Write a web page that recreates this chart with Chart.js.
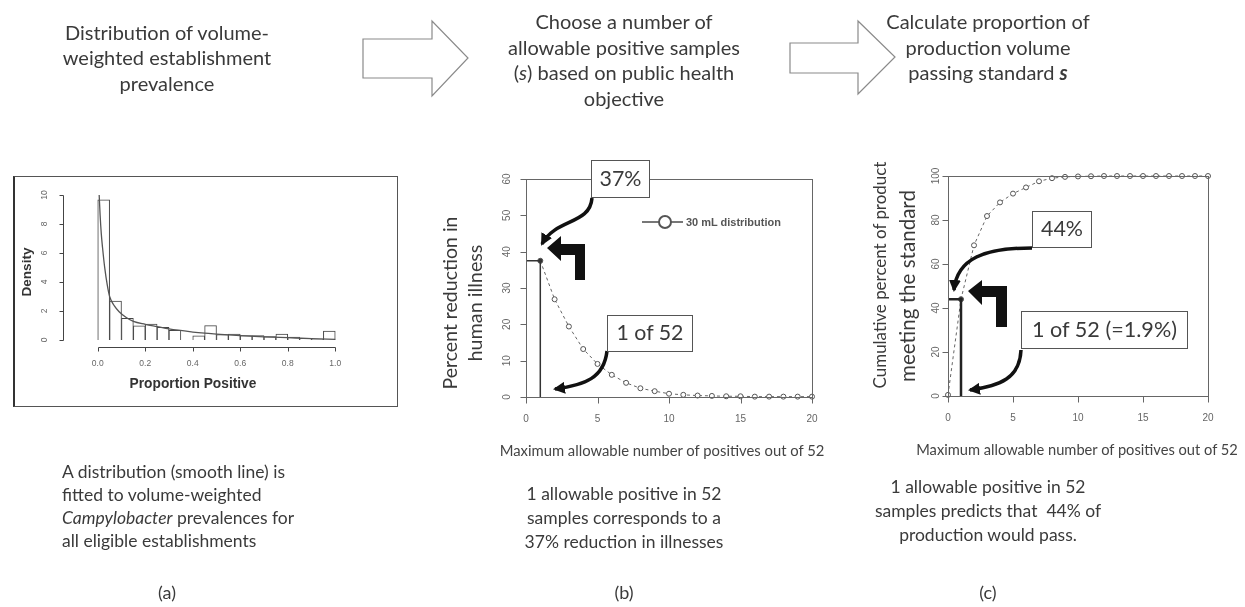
<!DOCTYPE html>
<html><head><meta charset="utf-8">
<script src="https://cdn.jsdelivr.net/npm/chart.js@4.4.1/dist/chart.umd.min.js"></script>
<style>
body{margin:0;background:#fff;}
#wrap{position:relative;width:1245px;height:607px;overflow:hidden;background:#fff;font-family:Lato,"Open Sans",sans-serif;color:#3a3a3a;}
.tx{position:absolute;white-space:nowrap;line-height:1;}
.cv{position:absolute;}
.box{position:absolute;background:#fff;border:1px solid #555;box-sizing:border-box;}
svg{position:absolute;left:0;top:0;}
</style></head>
<body><div id="wrap">
<div id="frameA" style="position:absolute;left:13px;top:176px;width:385px;height:231px;border:1px solid #555;border-left:2px solid #333;box-sizing:border-box;"></div>
<div class="cv" style="left:0;top:170px;width:420px;height:250px;"><canvas id="cA" width="420" height="250" style="width:420px;height:250px"></canvas></div>
<div class="cv" style="left:420px;top:150px;width:420px;height:280px;"><canvas id="cB" width="420" height="280" style="width:420px;height:280px"></canvas></div>
<div class="cv" style="left:840px;top:150px;width:405px;height:280px;"><canvas id="cC" width="405" height="280" style="width:405px;height:280px"></canvas></div>
<svg width="1245" height="607" viewBox="0 0 1245 607">
<defs><marker id="ah" markerWidth="12" markerHeight="12" refX="10" refY="6" orient="auto" markerUnits="userSpaceOnUse"><path d="M0,0 L12,6 L0,12 z" fill="#111"/></marker></defs>
<polygon points="363,39 432,39 432,21 468,58 432,96 432,78 363,78" fill="#fff" stroke="#8a8a8a" stroke-width="1.2"/>
<polygon points="790,43 858,43 858,21 895,57 858,94 858,73 790,73" fill="#fff" stroke="#8a8a8a" stroke-width="1.2"/>
<polygon points="547,248 561,236 561,244 585,244 585,280 575,280 575,255 561,255 561,261" fill="#111"/>
<polygon points="968,291 982,280 982,286 1007,286 1007,327 996,327 996,297 982,297 982,305" fill="#111"/>
<path d="M592,198 C590,225 556,218 542,244" fill="none" stroke="#111" stroke-width="3.5" marker-end="url(#ah)"/>
<path d="M607,351 C604,378 585,385 555,389" fill="none" stroke="#111" stroke-width="3.5" marker-end="url(#ah)"/>
<path d="M1032,248 C985,248 957,258 954,290" fill="none" stroke="#111" stroke-width="3.5" marker-end="url(#ah)"/>
<path d="M1021,350 C1020,378 1000,386 970,390" fill="none" stroke="#111" stroke-width="3.5" marker-end="url(#ah)"/>
<line x1="642" y1="222" x2="683" y2="222" stroke="#777" stroke-width="2"/>
<circle cx="665" cy="222" r="6" fill="#fff" stroke="#555" stroke-width="2"/>
</svg>
<div class="box" style="left:591px;top:160px;width:59px;height:38px;"></div>
<div class="box" style="left:607px;top:315px;width:86px;height:37px;"></div>
<div class="box" style="left:1032px;top:211px;width:60px;height:37px;"></div>
<div class="box" style="left:1021px;top:311px;width:167px;height:38px;"></div>
</div>
<script>
// ---------- data ----------
const histBreaks = [0,0.05,0.1,0.15,0.2,0.25,0.3,0.35,0.4,0.45,0.5,0.55,0.6,0.65,0.7,0.75,0.8,0.85,0.9,0.95,1.0];
const histDensity = [9.66,2.69,1.49,0.97,1.10,0.87,0.67,0.0,0.28,0.99,0.37,0.41,0.31,0.30,0.23,0.41,0.20,0.12,0.05,0.62];
const curveX = [0.006,0.01,0.015,0.02,0.03,0.04,0.05,0.07,0.09,0.12,0.15,0.2,0.25,0.3,0.4,0.45,0.5,0.6,0.7,0.8,0.9,1.0];
const curveY = [10.0,8.6,7.3,6.4,4.9,3.8,3.0,2.35,1.95,1.55,1.28,1.08,0.92,0.76,0.55,0.47,0.41,0.30,0.22,0.16,0.10,0.05];
const allowB = [1,2,3,4,5,6,7,8,9,10,11,12,13,14,15,16,17,18,19,20];
const reductionPct = [37.5,26.9,19.4,13.2,9.1,6.1,3.9,2.4,1.6,0.9,0.6,0.4,0.3,0.2,0.2,0.1,0.1,0.1,0.1,0.1];
const allowC = [0,1,2,3,4,5,6,7,8,9,10,11,12,13,14,15,16,17,18,19,20];
const passPct = [0.5,44,68.5,81.8,88,92,94.8,97.6,99,99.6,99.8,99.9,100,100,100,100,100,100,100,100,100];
const chosenS = 1, chosenReduction = 37.5, chosenPass = 44;
const ticksAx = [0,0.2,0.4,0.6,0.8,1.0], ticksAxLab = ['0.0','0.2','0.4','0.6','0.8','1.0'];
const ticksAy = [0,2,4,6,8,10];
const ticksBx = [0,5,10,15,20], ticksBy = [0,10,20,30,40,50,60];
const ticksCx = [0,5,10,15,20], ticksCy = [0,20,40,60,80,100];

// ---------- text ----------
const wrap = document.getElementById('wrap');
function addText(html, o){
  const d = document.createElement('div');
  d.className = 'tx'; d.innerHTML = html;
  const s = o.size || 16;
  d.style.fontSize = s + 'px';
  if (o.weight) d.style.fontWeight = o.weight;
  if (o.family) d.style.fontFamily = o.family;
  if (o.color) d.style.color = o.color;
  wrap.appendChild(d);
  if (o.w){ const w = d.getBoundingClientRect().width; d.style.fontSize = (s * o.w / w) + 'px'; }
  const left = o.align === 'left';
  d.style.left = (left ? o.x : o.cx) + 'px';
  d.style.top = o.cy + 'px';
  d.style.transform = 'translate(' + (left ? '0' : '-50%') + ',-50%)' + (o.rot ? ' rotate(' + o.rot + 'deg)' : '');
  return d;
}
// top headings
[['Distribution of volume-',32],['weighted establishment',57],['prevalence',83]].forEach(l=>addText(l[0],{cx:167,cy:l[1],size:20}));
[['Choose a number of',21],['allowable positive samples',47],['(<i>s</i>) based on public health',72],['objective',98]].forEach(l=>addText(l[0],{cx:624,cy:l[1],size:20}));
[['Calculate proportion of',21],['production volume',47],['passing standard <b><i>s</i></b>',72]].forEach(l=>addText(l[0],{cx:988,cy:l[1],size:20}));
// bottom captions
[['A distribution (smooth line) is',472],['fitted to volume-weighted',495],['<i>Campylobacter</i> prevalences for',518],['all eligible establishments',541]].forEach(l=>addText(l[0],{align:'left',x:62,cy:l[1],size:17.5}));
[['1 allowable positive in 52',494],['samples corresponds to a',518],['37% reduction in illnesses',542]].forEach(l=>addText(l[0],{cx:624,cy:l[1],size:17.5}));
[['1 allowable positive in 52',487],['samples predicts that &nbsp;44% of',511],['production would pass.',535]].forEach(l=>addText(l[0],{cx:988,cy:l[1],size:17.5}));
addText('(a)',{cx:167,cy:592,size:18});
addText('(b)',{cx:624,cy:592,size:18});
addText('(c)',{cx:988,cy:592,size:18});
// axis titles
addText('Density',{cx:27,cy:272,rot:-90,size:13,weight:'bold',family:'"Liberation Sans",Arial,sans-serif',w:49,color:'#333'});
addText('Proportion Positive',{cx:193,cy:384,size:13,weight:'bold',family:'"Liberation Sans",Arial,sans-serif',w:127,color:'#333'});
addText('Percent reduction in',{cx:450,cy:303,rot:-90,size:18,w:173});
addText('human illness',{cx:475,cy:303,rot:-90,size:18,w:117});
addText('Cumulative percent of product',{cx:880,cy:275,rot:-90,size:17,w:227});
addText('meeting the standard',{cx:907,cy:286,rot:-90,size:17,w:192});
addText('Maximum allowable number of positives out of 52',{cx:662,cy:450,size:14,w:325,color:'#444'});
addText('Maximum allowable number of positives out of 52',{cx:1077,cy:450,size:14,w:322,color:'#444'});
// annotation box texts & legend
addText('37%',{cx:620.5,cy:179,size:22,w:42});
addText('1 of 52',{cx:650,cy:333,size:22,w:67});
addText('44%',{cx:1062,cy:229,size:22,w:42});
addText('1 of 52 (=1.9%)',{cx:1104.5,cy:330,size:22,w:145});
addText('30 mL distribution',{align:'left',x:686,cy:222,size:11,weight:'bold',family:'"Liberation Sans",Arial,sans-serif',color:'#555',w:95});

// ---------- R-style axes plugin ----------
function rAxes(o){
  return {id:'raxes', afterDraw(chart){
    const ctx = chart.ctx, ca = chart.chartArea, xs = chart.scales.x, ys = chart.scales.y;
    ctx.save();
    ctx.strokeStyle = o.axisColor; ctx.lineWidth = 1;
    if (o.box){ ctx.strokeRect(Math.round(ca.left)+0.5, Math.round(ca.top)+0.5, Math.round(ca.right-ca.left), Math.round(ca.bottom-ca.top)); }
    const ax = Math.round(ca.bottom + (o.xGap||0)) + 0.5;
    const ay = Math.round(ca.left - (o.yGap||0)) + 0.5;
    ctx.beginPath();
    const xp = v => Math.round(xs.getPixelForValue(v)) + 0.5;
    const yp = v => Math.round(ys.getPixelForValue(v)) + 0.5;
    ctx.moveTo(xp(o.xTicks[0]), ax); ctx.lineTo(xp(o.xTicks[o.xTicks.length-1]), ax);
    ctx.moveTo(ay, yp(o.yTicks[0])); ctx.lineTo(ay, yp(o.yTicks[o.yTicks.length-1]));
    o.xTicks.forEach(v => { ctx.moveTo(xp(v), ax); ctx.lineTo(xp(v), ax + o.tick); });
    o.yTicks.forEach(v => { ctx.moveTo(ay, yp(v)); ctx.lineTo(ay - o.tick, yp(v)); });
    ctx.stroke();
    ctx.fillStyle = o.labelColor; ctx.font = o.font;
    ctx.textAlign = 'center'; ctx.textBaseline = 'middle';
    o.xTicks.forEach((v,i) => ctx.fillText(o.xLabels ? o.xLabels[i] : String(v), xs.getPixelForValue(v), ax + o.xLab));
    o.yTicks.forEach(v => {
      ctx.save(); ctx.translate(ay - o.yLab, ys.getPixelForValue(v)); ctx.rotate(-Math.PI/2);
      ctx.fillText(String(v), 0, 0); ctx.restore();
    });
    ctx.restore();
  }};
}
const common = {animation:false, responsive:false, devicePixelRatio:1,
  plugins:{legend:{display:false}, tooltip:{enabled:false}}};

// ---------- panel a ----------
const binMids = histDensity.map((_,i)=> (histBreaks[i]+histBreaks[i+1])/2);
new Chart(document.getElementById('cA'), {
  type:'bar',
  data:{datasets:[
    {type:'line', data: curveX.map((x,i)=>({x:x, y:curveY[i]})), borderColor:'#555', borderWidth:1.3, pointRadius:0, cubicInterpolationMode:'monotone', order:0},
    {type:'bar', data: binMids.map((x,i)=>({x:x, y:histDensity[i]})), backgroundColor:'#fff', borderColor:'#444', borderWidth:1, barPercentage:1, categoryPercentage:1, order:1}
  ]},
  options:Object.assign({}, common, {
    layout:{padding:{left:62.6, right:49.6, top:19.2, bottom:74.2}},
    scales:{x:{type:'linear', min:-0.04, max:1.04, display:false}, y:{type:'linear', min:-0.4, max:10.4, display:false}}
  }),
  plugins:[rAxes({xTicks:ticksAx, xLabels:ticksAxLab, yTicks:ticksAy, tick:4, xGap:1, yGap:0, xLab:16, yLab:19,
    axisColor:'#444', labelColor:'#666', font:'8.5px "Liberation Sans", Arial, sans-serif'})]
});

// ---------- panel b ----------
new Chart(document.getElementById('cB'), {
  type:'line',
  data:{datasets:[
    {data:[{x:0,y:chosenReduction},{x:chosenS,y:chosenReduction},{x:chosenS,y:0}], borderColor:'#333', borderWidth:1.5, pointRadius:0, clip:false},
    {data: allowB.map((x,i)=>({x:x, y:reductionPct[i]})), borderColor:'#666', borderWidth:1, borderDash:[3,3],
     pointRadius:2.5, pointBorderWidth:1, pointBorderColor:'#555', pointBackgroundColor: ctx => ctx.dataIndex===0 ? '#333' : '#fff', clip:false}
  ]},
  options:Object.assign({}, common, {
    layout:{padding:{left:106, right:28, top:29, bottom:33}},
    scales:{x:{type:'linear', min:0, max:20, display:false}, y:{type:'linear', min:0, max:60, display:false}}
  }),
  plugins:[rAxes({box:true, xTicks:ticksBx, yTicks:ticksBy, tick:6, xLab:22, yLab:19,
    axisColor:'#666', labelColor:'#666', font:'10px "Liberation Sans", Arial, sans-serif'})]
});

// ---------- panel c ----------
new Chart(document.getElementById('cC'), {
  type:'line',
  data:{datasets:[
    {data:[{x:0,y:chosenPass},{x:chosenS,y:chosenPass},{x:chosenS,y:0}], borderColor:'#222', borderWidth:2.5, pointRadius:0, clip:false},
    {data: allowC.map((x,i)=>({x:x, y:passPct[i]})), borderColor:'#666', borderWidth:1, borderDash:[3,3],
     pointRadius:2.5, pointBorderWidth:1, pointBorderColor:'#555', pointBackgroundColor: ctx => ctx.dataIndex===1 ? '#333' : '#fff', clip:false}
  ]},
  options:Object.assign({}, common, {
    layout:{padding:{left:108, right:37, top:26, bottom:34}},
    scales:{x:{type:'linear', min:0, max:20, display:false}, y:{type:'linear', min:0, max:100, display:false}}
  }),
  plugins:[rAxes({box:true, xTicks:ticksCx, yTicks:ticksCy, tick:6, xLab:22, yLab:12,
    axisColor:'#666', labelColor:'#666', font:'10px "Liberation Sans", Arial, sans-serif'})]
});
</script>
</body></html>
